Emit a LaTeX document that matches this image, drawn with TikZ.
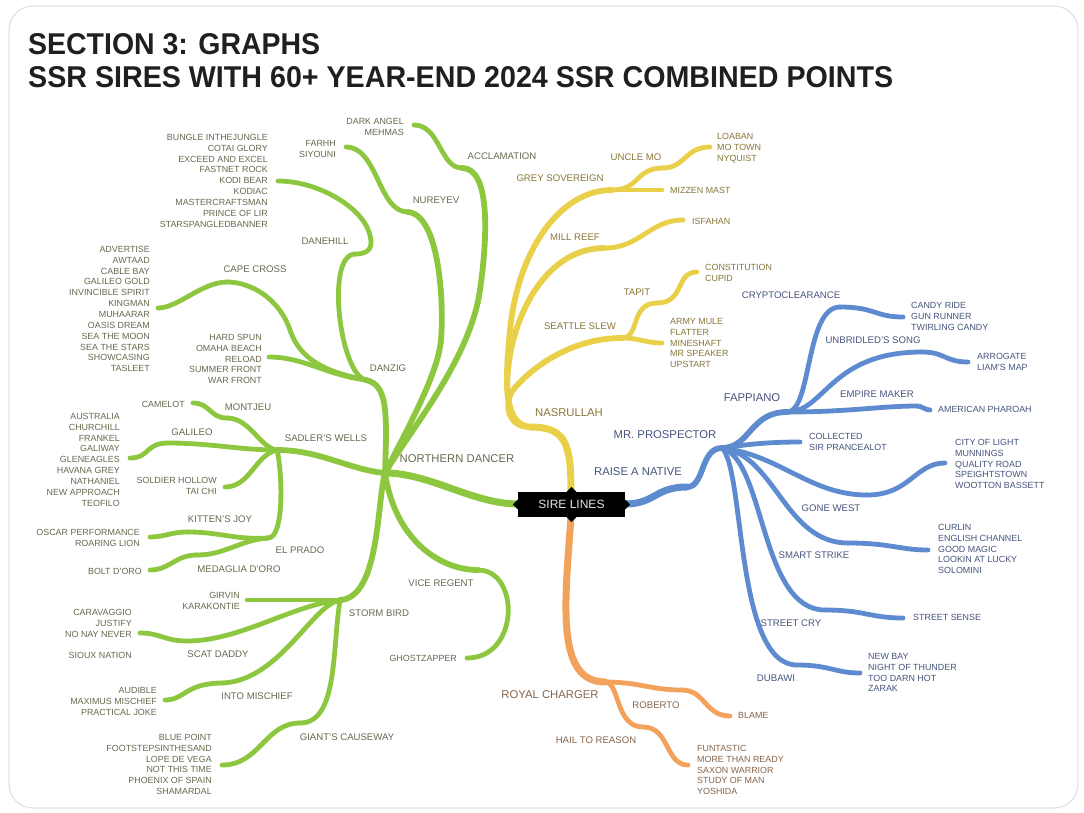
\documentclass[tikz,border=0pt]{standalone}
\usepackage{fontspec}
\setmainfont{Liberation Sans}
\usepackage{graphicx}
\usepackage{tikz}
\definecolor{grn}{RGB}{141,198,63}
\definecolor{ylw}{RGB}{233,208,72}
\definecolor{blu}{RGB}{94,139,208}
\definecolor{org}{RGB}{242,162,90}
\definecolor{grntxt}{RGB}{104,104,80}
\definecolor{ylwtxt}{RGB}{134,118,54}
\definecolor{blutxt}{RGB}{70,84,124}
\definecolor{orgtxt}{RGB}{134,100,74}
\definecolor{cardline}{RGB}{222,226,232}
\tikzset{
  cardframe/.style={draw=cardline,line width=1.2pt,rounded corners=24pt},
  trunk/.style={line width=7pt,line cap=round},
  branch/.style={line width=5.8pt,line cap=round},
  twig/.style={line width=4.8pt,line cap=round},
  bigname/.style={inner sep=0pt,font=\fontsize{11.3}{13}\selectfont},
  midname/.style={inner sep=0pt,font=\fontsize{9.6}{11}\selectfont},
  leafright/.style={inner sep=0pt,align=right,anchor=north east,font=\fontsize{8.9}{10.85}\selectfont},
  leafleft/.style={inner sep=0pt,align=left,anchor=north west,font=\fontsize{8.9}{10.85}\selectfont},
  rootbox/.style={fill=black,text=black!10,inner sep=0pt,minimum width=107pt,minimum height=25pt,font=\fontsize{12}{14}\selectfont},
  rootnotch/.style={fill=black,inner sep=0pt,minimum size=7pt,rotate=45}
}

\begin{document}
\begin{tikzpicture}[x=1pt,y=-1pt]
  \useasboundingbox (0,0) rectangle (1084,812);
  \draw[cardframe] (9,6) rectangle (1078,808);
  \node[anchor=base west,inner sep=0pt,text=black!88] (title-a) at (28,54)
    {\resizebox{292pt}{21pt}{\bfseries SECTION 3: GRAPHS}};
  \node[anchor=base west,inner sep=0pt,text=black!88] (title-b) at (28,87)
    {\resizebox{865pt}{21pt}{\bfseries SSR SIRES WITH 60+ YEAR-END 2024 SSR COMBINED POINTS}};

  \coordinate (root-w) at (518,504);
  \coordinate (root-n) at (571,492);
  \coordinate (root-e) at (625,504);
  \coordinate (root-s) at (571,517);

  % northern dancer
  \begin{scope}[draw=grn,text=grntxt]
    \coordinate (nd) at (385,473);
    \draw[trunk] (root-w) .. controls +(-45,0) and +(45,0) .. (nd);
    \coordinate (dz) at (366,380);
    \draw[branch] (nd) .. controls +(2,-60) and +(22,5) .. (dz);
    \coordinate (dh) at (355,254);
    \draw[twig] (dz) .. controls +(-26,-5) and +(-30,1) .. (dh);
    \coordinate (dh-bend) at (369,232);
    \coordinate (dh-end) at (278,181);
    \draw[twig] (dh) .. controls +(15,0) and +(5,15) .. (dh-bend) .. controls +(-8,-25) and +(40,0) .. (dh-end);
    \coordinate (cc-bend) at (290,330);
    \coordinate (cc) at (227,282);
    \draw[twig] (dz) .. controls +(-40,-8) and +(10,30) .. (cc-bend) .. controls +(-10,-30) and +(25,0) .. (cc);
    \coordinate (cc-end) at (158,308);
    \draw[twig] (cc) .. controls +(-25,0) and +(20,0) .. (cc-end);
    \coordinate (hs-end) at (269,357);
    \draw[twig] (dz) .. controls +(-40,-5) and +(35,0) .. (hs-end);
    \coordinate (nr-bend) at (441,340);
    \coordinate (nr) at (408,212);
    \draw[branch] (nd) .. controls +(20,-40) and +(-3,35) .. (nr-bend) .. controls +(3,-35) and +(32,3) .. (nr);
    \coordinate (nr-end) at (346,147);
    \draw[twig] (nr) .. controls +(-30,0) and +(32,0) .. (nr-end);
    \coordinate (ac-bend) at (480,290);
    \coordinate (ac) at (462,168);
    \draw[branch] (nd) .. controls +(25,-43) and +(-10,70) .. (ac-bend) .. controls +(8,-56) and +(28,0) .. (ac);
    \coordinate (ac-end) at (414,125);
    \draw[twig] (ac) .. controls +(-22,0) and +(26,0) .. (ac-end);
    \coordinate (sw) at (277,450);
    \draw[branch] (nd) .. controls +(-35,-3) and +(43,0) .. (sw);
    \coordinate (mj) at (227,418);
    \draw[twig] (sw) .. controls +(-17,-2) and +(23,0) .. (mj);
    \coordinate (mj-end) at (193,403);
    \draw[twig] (mj) .. controls +(-17,0) and +(17,0) .. (mj-end);
    \coordinate (gl) at (168,443);
    \draw[twig] (sw) .. controls +(-37,0) and +(42,0) .. (gl);
    \coordinate (gl-end) at (130,458);
    \draw[twig] (gl) .. controls +(-23,0) and +(20,0) .. (gl-end);
    \coordinate (sh-end) at (225,487);
    \draw[twig] (sw) .. controls +(-22,5) and +(25,0) .. (sh-end);
    \coordinate (ep) at (268,538);
    \draw[twig] (sw) .. controls +(5,20) and +(17,0) .. (ep);
    \coordinate (kj) at (188,532);
    \draw[twig] (ep) .. controls +(-33,2) and +(32,0) .. (kj);
    \coordinate (kj-end) at (150,537);
    \draw[twig] (kj) .. controls +(-18,0) and +(15,0) .. (kj-end);
    \coordinate (md) at (197,555);
    \draw[twig] (ep) .. controls +(-28,2) and +(28,0) .. (md);
    \coordinate (md-end) at (150,570);
    \draw[twig] (md) .. controls +(-22,0) and +(20,0) .. (md-end);
    \coordinate (sb) at (340,600);
    \draw[branch] (nd) .. controls +(-8,27) and +(40,-2) .. (sb);
    \coordinate (gv-end) at (247,600);
    \draw[twig] (sb) -- (gv-end);
    \coordinate (sd) at (187,641);
    \draw[twig] (sb) .. controls +(-48,5) and +(53,0) .. (sd);
    \coordinate (sd-end) at (140,633);
    \draw[twig] (sd) .. controls +(-22,0) and +(20,0) .. (sd-end);
    \coordinate (im) at (223,683);
    \draw[twig] (sb) .. controls +(-28,5) and +(57,-3) .. (im);
    \coordinate (im-end) at (165,700);
    \draw[twig] (im) .. controls +(-38,0) and +(20,0) .. (im-end);
    \coordinate (gc) at (300,723);
    \draw[twig] (sb) .. controls +(-8,50) and +(38,0) .. (gc);
    \coordinate (gc-end) at (222,765);
    \draw[twig] (gc) .. controls +(-35,0) and +(38,0) .. (gc-end);
    \coordinate (vr) at (478,570);
    \draw[branch] (nd) .. controls +(10,67) and +(-38,0) .. (vr);
    \coordinate (vr-end) at (467,658);
    \draw[twig] (vr) .. controls +(42,0) and +(53,0) .. (vr-end);

    \node[bigname] (northern-dancer) at (457,459) {NORTHERN DANCER};
    \node[midname] (danzig) at (388,368) {DANZIG};
    \node[midname] (danehill) at (325,241) {DANEHILL};
    \node[midname] (cape-cross) at (255,269) {CAPE CROSS};
    \node[midname] (nureyev) at (436,200) {NUREYEV};
    \node[midname] (acclamation) at (502,156) {ACCLAMATION};
    \node[midname] (sadlers-wells) at (326,438) {SADLER'S WELLS};
    \node[midname] (montjeu) at (248,407) {MONTJEU};
    \node[midname] (galileo) at (192,432) {GALILEO};
    \node[midname] (el-prado) at (300,550) {EL PRADO};
    \node[midname] (kittens-joy) at (220,519) {KITTEN'S JOY};
    \node[midname] (medaglia) at (239,569) {MEDAGLIA D'ORO};
    \node[midname] (storm-bird) at (379,613) {STORM BIRD};
    \node[midname] (scat-daddy) at (218,654) {SCAT DADDY};
    \node[midname] (into-mischief) at (257,696) {INTO MISCHIEF};
    \node[midname] (giants-causeway) at (347,737) {GIANT'S CAUSEWAY};
    \node[midname] (vice-regent) at (441,583) {VICE REGENT};

    \node[leafright] (dh-list) at (268,134) {BUNGLE INTHEJUNGLE\\COTAI GLORY\\EXCEED AND EXCEL\\FASTNET ROCK\\KODI BEAR\\KODIAC\\MASTERCRAFTSMAN\\PRINCE OF LIR\\STARSPANGLEDBANNER};
    \node[leafright] (cc-list) at (150,246) {ADVERTISE\\AWTAAD\\CABLE BAY\\GALILEO GOLD\\INVINCIBLE SPIRIT\\KINGMAN\\MUHAARAR\\OASIS DREAM\\SEA THE MOON\\SEA THE STARS\\SHOWCASING\\TASLEET};
    \node[leafright] (hs-list) at (262,334) {HARD SPUN\\OMAHA BEACH\\RELOAD\\SUMMER FRONT\\WAR FRONT};
    \node[leafright] (nr-list) at (336,140) {FARHH\\SIYOUNI};
    \node[leafright] (ac-list) at (404,118) {DARK ANGEL\\MEHMAS};
    \node[leafright] (mj-list) at (185,401) {CAMELOT};
    \node[leafright] (gl-list) at (120,413) {AUSTRALIA\\CHURCHILL\\FRANKEL\\GALIWAY\\GLENEAGLES\\HAVANA GREY\\NATHANIEL\\NEW APPROACH\\TEOFILO};
    \node[leafright] (sh-list) at (217,477) {SOLDIER HOLLOW\\TAI CHI};
    \node[leafright] (kj-list) at (140,529) {OSCAR PERFORMANCE\\ROARING LION};
    \node[leafright] (md-list) at (142,568) {BOLT D'ORO};
    \node[leafright] (gv-list) at (240,592) {GIRVIN\\KARAKONTIE};
    \node[leafright] (sd-list) at (132,609) {CARAVAGGIO\\JUSTIFY\\NO NAY NEVER};
    \node[leafright] (sx-list) at (132,652) {SIOUX NATION};
    \node[leafright] (im-list) at (157,687) {AUDIBLE\\MAXIMUS MISCHIEF\\PRACTICAL JOKE};
    \node[leafright] (gc-list) at (212,734) {BLUE POINT\\FOOTSTEPSINTHESAND\\LOPE DE VEGA\\NOT THIS TIME\\PHOENIX OF SPAIN\\SHAMARDAL};
    \node[leafright] (vr-list) at (457,655) {GHOSTZAPPER};
  \end{scope}

  % nasrullah
  \begin{scope}[draw=ylw,text=ylwtxt]
    \coordinate (na) at (530,427);
    \draw[trunk] (root-n) .. controls +(0,-50) and +(35,0) .. (na);
    \coordinate (gs-bend) at (510,330);
    \coordinate (gs) at (612,190);
    \draw[branch] (na) .. controls +(-27,-2) and +(-5,50) .. (gs-bend) .. controls +(8,-80) and +(-52,0) .. (gs);
    \coordinate (um) at (663,168);
    \draw[twig] (gs) .. controls +(28,0) and +(-28,0) .. (um);
    \coordinate (um-end) at (710,147);
    \draw[twig] (um) .. controls +(22,0) and +(-25,0) .. (um-end);
    \coordinate (mm-end) at (662,190);
    \draw[twig] (gs) -- (mm-end);
    \coordinate (mr-bend) at (511,350);
    \coordinate (mr) at (605,248);
    \draw[branch] (na) .. controls +(-27,-2) and +(-6,30) .. (mr-bend) .. controls +(9,-45) and +(-55,0) .. (mr);
    \coordinate (mr-end) at (683,220);
    \draw[twig] (mr) .. controls +(35,0) and +(-33,0) .. (mr-end);
    \coordinate (ss-bend) at (513,390);
    \coordinate (ss) at (622,338);
    \draw[branch] (na) .. controls +(-25,0) and +(-8,10) .. (ss-bend) .. controls +(17,-21) and +(-52,0) .. (ss);
    \coordinate (tp) at (657,303);
    \draw[twig] (ss) .. controls +(18,0) and +(-27,0) .. (tp);
    \coordinate (tp-end) at (697,272);
    \draw[twig] (tp) .. controls +(28,0) and +(-22,0) .. (tp-end);
    \coordinate (ss-end) at (662,343);
    \draw[twig] (ss) .. controls +(18,0) and +(-17,0) .. (ss-end);

    \node[bigname] (nasrullah) at (569,413) {NASRULLAH};
    \node[midname] (grey-sovereign) at (560,178) {GREY SOVEREIGN};
    \node[midname] (uncle-mo) at (636,157) {UNCLE MO};
    \node[midname] (mill-reef) at (575,237) {MILL REEF};
    \node[midname] (seattle-slew) at (580,326) {SEATTLE SLEW};
    \node[midname] (tapit) at (637,292) {TAPIT};

    \node[leafleft] (um-list) at (717,133) {LOABAN\\MO TOWN\\NYQUIST};
    \node[leafleft,anchor=west] (mm-list) at (670,190) {MIZZEN MAST};
    \node[leafleft,anchor=west] (mr-list) at (692,221) {ISFAHAN};
    \node[leafleft] (tp-list) at (705,264) {CONSTITUTION\\CUPID};
    \node[leafleft] (ss-list) at (670,318) {ARMY MULE\\FLATTER\\MINESHAFT\\MR SPEAKER\\UPSTART};
  \end{scope}

  % raise a native
  \begin{scope}[draw=blu,text=blutxt]
    \coordinate (rn) at (687,487);
    \draw[trunk] (root-e) .. controls +(30,0) and +(-32,0) .. (rn);
    \coordinate (mp) at (722,448);
    \draw[branch] (rn) .. controls +(18,0) and +(-22,0) .. (mp);
    \coordinate (fp) at (787,412);
    \draw[branch] (mp) .. controls +(28,0) and +(-37,0) .. (fp);
    \coordinate (cr) at (840,307);
    \draw[twig] (fp) .. controls +(25,0) and +(-35,0) .. (cr);
    \coordinate (cr-end) at (903,317);
    \draw[twig] (cr) .. controls +(35,0) and +(-28,0) .. (cr-end);
    \coordinate (ub) at (922,352);
    \draw[twig] (fp) .. controls +(38,0) and +(-92,0) .. (ub);
    \coordinate (ub-end) at (968,362);
    \draw[twig] (ub) .. controls +(23,0) and +(-23,0) .. (ub-end);
    \coordinate (em) at (917,406);
    \draw[twig] (fp) .. controls +(63,0) and +(-37,0) .. (em);
    \coordinate (em-end) at (930,410);
    \draw[twig] (em) .. controls +(5,0) and +(-5,0) .. (em-end);
    \coordinate (co-end) at (800,442);
    \draw[twig] (mp) .. controls +(28,-4) and +(-30,0) .. (co-end);
    \coordinate (gw) at (867,495);
    \draw[twig] (mp) .. controls +(58,7) and +(-57,0) .. (gw);
    \coordinate (gw-end) at (945,463);
    \draw[twig] (gw) .. controls +(43,0) and +(-30,0) .. (gw-end);
    \coordinate (st) at (848,543);
    \draw[twig] (mp) .. controls +(53,7) and +(-63,0) .. (st);
    \coordinate (st-end) at (928,550);
    \draw[twig] (st) .. controls +(42,0) and +(-28,0) .. (st-end);
    \coordinate (sc) at (825,610);
    \draw[twig] (mp) .. controls +(43,12) and +(-65,0) .. (sc);
    \coordinate (sc-end) at (903,618);
    \draw[twig] (sc) .. controls +(40,0) and +(-33,0) .. (sc-end);
    \coordinate (db) at (797,665);
    \draw[twig] (mp) .. controls +(23,22) and +(-62,0) .. (db);
    \coordinate (db-end) at (860,673);
    \draw[twig] (db) .. controls +(33,0) and +(-25,0) .. (db-end);

    \node[bigname] (raise-a-native) at (638,472) {RAISE A NATIVE};
    \node[bigname] (mr-prospector) at (665,435) {MR. PROSPECTOR};
    \node[bigname] (fappiano) at (752,398) {FAPPIANO};
    \node[midname] (cryptoclearance) at (791,295) {CRYPTOCLEARANCE};
    \node[midname] (unbridleds-song) at (873,340) {UNBRIDLED'S SONG};
    \node[midname] (empire-maker) at (877,394) {EMPIRE MAKER};
    \node[midname] (gone-west) at (831,508) {GONE WEST};
    \node[midname] (smart-strike) at (814,555) {SMART STRIKE};
    \node[midname] (street-cry) at (791,623) {STREET CRY};
    \node[midname] (dubawi) at (776,678) {DUBAWI};

    \node[leafleft] (cr-list) at (911,302) {CANDY RIDE\\GUN RUNNER\\TWIRLING CANDY};
    \node[leafleft] (ub-list) at (977,353) {ARROGATE\\LIAM'S MAP};
    \node[leafleft,anchor=west] (em-list) at (938,409) {AMERICAN PHAROAH};
    \node[leafleft] (co-list) at (809,433) {COLLECTED\\SIR PRANCEALOT};
    \node[leafleft] (gw-list) at (955,439) {CITY OF LIGHT\\MUNNINGS\\QUALITY ROAD\\SPEIGHTSTOWN\\WOOTTON BASSETT};
    \node[leafleft] (st-list) at (938,524) {CURLIN\\ENGLISH CHANNEL\\GOOD MAGIC\\LOOKIN AT LUCKY\\SOLOMINI};
    \node[leafleft,anchor=west] (sc-list) at (913,617) {STREET SENSE};
    \node[leafleft] (db-list) at (868,653) {NEW BAY\\NIGHT OF THUNDER\\TOO DARN HOT\\ZARAK};
  \end{scope}

  % royal charger
  \begin{scope}[draw=org,text=orgtxt]
    \coordinate (rc) at (605,682);
    \draw[trunk] (root-s) .. controls +(-6,84) and +(-50,0) .. (rc);
    \coordinate (rb) at (682,690);
    \draw[twig] (rc) .. controls +(35,0) and +(-32,0) .. (rb);
    \coordinate (rb-end) at (730,716);
    \draw[twig] (rb) .. controls +(23,0) and +(-25,0) .. (rb-end);
    \coordinate (hr) at (643,727);
    \draw[twig] (rc) .. controls +(15,0) and +(-28,0) .. (hr);
    \coordinate (hr-end) at (688,765);
    \draw[twig] (hr) .. controls +(27,0) and +(-23,0) .. (hr-end);

    \node[bigname] (royal-charger) at (550,695) {ROYAL CHARGER};
    \node[midname] (roberto) at (656,705) {ROBERTO};
    \node[midname] (hail-to-reason) at (596,740) {HAIL TO REASON};

    \node[leafleft,anchor=west] (rb-list) at (738,715) {BLAME};
    \node[leafleft] (hr-list) at (697,745) {FUNTASTIC\\MORE THAN READY\\SAXON WARRIOR\\STUDY OF MAN\\YOSHIDA};
  \end{scope}

  \node[rootbox] (root) at (571.5,504.5) {SIRE LINES};
  \node[rootnotch] (notch-w) at (root.west) {};
  \node[rootnotch] (notch-e) at (root.east) {};
  \node[rootnotch] (notch-n) at (root.north) {};
  \node[rootnotch] (notch-s) at (root.south) {};
\end{tikzpicture}
\end{document}
